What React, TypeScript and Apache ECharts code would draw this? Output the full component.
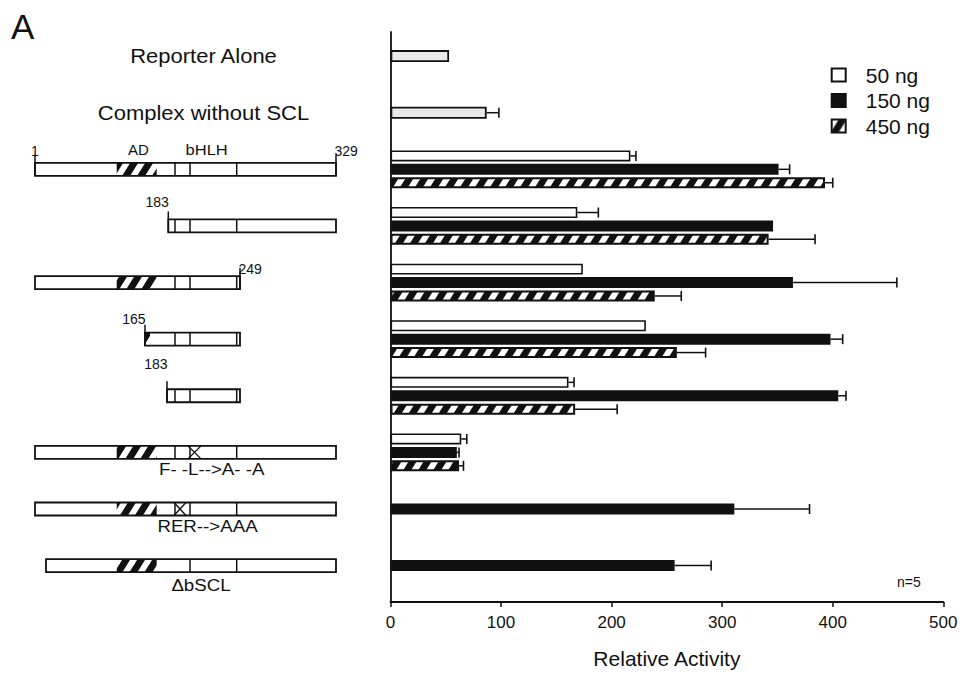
import React, { useEffect, useRef } from 'react';
import * as echarts from 'echarts';

// ---------- data ----------
const rowNames = [
  'Reporter Alone',
  'Complex without SCL',
  'SCL 1-329',
  'SCL 183-329',
  'SCL 1-249',
  'SCL 165-249',
  'SCL 183-249',
  'F- -L-->A- -A',
  'RER-->AAA',
  'ΔbSCL',
];
const doseNames = ['50 ng', '150 ng', '450 ng'];
const controlValues = [53, 87, null, null, null, null, null, null, null, null];
const controlErrors = [null, 98, null, null, null, null, null, null, null, null];
const ng50Values = [null, null, 217, 169, 174, 231, 161, 64, null, null];
const ng50Errors = [null, null, 222, 188, null, null, 166, 69, null, null];
const ng150Values = [null, null, 351, 346, 364, 398, 405, 60, 311, 257];
const ng150Errors = [null, null, 361, null, 458, 409, 412, 62, 379, 290];
const ng450Values = [null, null, 393, 342, 239, 259, 167, 62, null, null];
const ng450Errors = [null, null, 400, 384, 263, 285, 205, 66, null, null];
const xMin = 0;
const xMax = 500;
const xInterval = 100;

// ---------- schematic of the constructs (drawing units along the diagram) ----------
const AD = [81.7, 121.7];
const DIVS = [140, 155, 201.7];
const constructs: any[] = [
  null,
  null,
  { start: 0, end: 301, ad: AD, dividers: DIVS, startLabel: '1', startAlign: 'center', endLabel: '329', rise: 5, domainLabels: true },
  { start: 133.3, end: 301, dividers: DIVS, startLabel: '183', rise: 10 },
  { start: 0, end: 205, ad: AD, dividers: DIVS, endLabel: '249', rise: 0 },
  { start: 110, end: 205, ad: [110, 115], dividers: DIVS, startLabel: '165', rise: 7 },
  { start: 132, end: 205, dividers: DIVS, startLabel: '183', rise: 18 },
  { start: 0, end: 301, ad: AD, dividers: DIVS, mutation: [153, 166], caption: 'F- -L-->A- -A', captionX: 176.7, captionGap: 2 },
  { start: 0, end: 301, ad: AD, dividers: DIVS, mutation: [139, 151], caption: 'RER-->AAA', captionX: 172.5, captionGap: 2 },
  { start: 11, end: 301, ad: AD, dividers: [155, 201.7], caption: 'ΔbSCL', captionX: 166, captionGap: 5 },
];

// ---------- layout / style ----------
const FONT = 'Liberation Sans, Arial, Helvetica, sans-serif';
const INK = '#111';
const GRID_LEFT = 390.5;
const GRID_W = 552.8;
const ROW_TOP = 27.8;
const ROW_H = 566.1;
const AXIS_TOP = 32;
const AXIS_Y = 602;
const DIAG_LEFT = 35;
const DIAG_W = 301;
const BAR_W = 11;
const BAR_GAP = 0.22;
const PITCH = BAR_W * (1 + BAR_GAP);
const DIAG_H = 13;

function makeHatch() {
  const W = 15;
  const H = 24;
  const c = document.createElement('canvas');
  c.width = W;
  c.height = H;
  const ctx = c.getContext('2d')!;
  ctx.fillStyle = INK;
  ctx.fillRect(0, 0, W, H);
  ctx.fillStyle = '#fff';
  for (const dx of [-W, 0, W]) {
    ctx.beginPath();
    ctx.moveTo(dx, H);
    ctx.lineTo(dx + W, 0);
    ctx.lineTo(dx + W + 7, 0);
    ctx.lineTo(dx + 7, H);
    ctx.closePath();
    ctx.fill();
  }
  return { image: c.toDataURL(), repeat: 'repeat', imageWidth: W, imageHeight: H } as any;
}

function txt(text: string, x: number, y: number, size: number, align: string, valign: string, scaleX = 1) {
  return {
    type: 'text',
    x,
    y,
    scaleX,
    style: {
      text,
      font: `${size}px ${FONT}`,
      fill: INK,
      textFill: INK,
      align,
      verticalAlign: valign,
      textAlign: align,
      textVerticalAlign: valign,
    },
  };
}
function ln(x1: number, y1: number, x2: number, y2: number, w = 1.5) {
  return { type: 'line', shape: { x1, y1, x2, y2 }, style: { stroke: INK, lineWidth: w } };
}

function buildOption() {
  const hatch = makeHatch();

  const errorSeries = (values: any[], errors: any[], slot: number, yAxisIndex: number) => ({
    type: 'custom',
    xAxisIndex: 0,
    yAxisIndex,
    z: 4,
    silent: true,
    data: values
      .map((v, i) => [v, i, errors[i]])
      .filter((d) => d[0] != null && d[2] != null),
    encode: { x: [0, 2], y: 1 },
    renderItem: (_p: any, api: any) => {
      const row = api.value(1);
      const a = api.coord([api.value(0), row]);
      const b = api.coord([api.value(2), row]);
      const y = a[1] + slot * PITCH;
      return {
        type: 'group',
        children: [ln(a[0], y, b[0], y, 1.5), ln(b[0], y - 5, b[0], y + 5, 1.6)],
      };
    },
  });

  const diagramSeries = {
    type: 'custom',
    xAxisIndex: 2,
    yAxisIndex: 3,
    silent: true,
    data: rowNames.map((_n, i) => [0, i]),
    encode: { x: 0, y: 1 },
    renderItem: (_p: any, api: any) => {
      const row = api.value(1);
      const X = (u: number) => api.coord([u, row])[0];
      const yc = api.coord([0, row])[1];
      if (row < 2) {
        return txt(rowNames[row], X(168.5), yc, 20, 'center', 'middle', 1.1);
      }
      const c = constructs[row];
      const top = yc - DIAG_H / 2;
      const bot = yc + DIAG_H / 2;
      const x0 = X(c.start);
      const x1 = X(c.end);
      const kids: any[] = [];
      kids.push({ type: 'rect', shape: { x: x0, y: top, width: x1 - x0, height: DIAG_H }, style: { fill: '#fff' } });
      if (c.ad) {
        kids.push({
          type: 'rect',
          shape: { x: X(c.ad[0]), y: top, width: X(c.ad[1]) - X(c.ad[0]), height: DIAG_H },
          style: { fill: hatch },
        });
      }
      for (const d of c.dividers) {
        if (d > c.start && d < c.end) kids.push(ln(X(d), top, X(d), bot, 1.5));
      }
      if (c.mutation) {
        const m0 = X(c.mutation[0]);
        const m1 = X(c.mutation[1]);
        kids.push(ln(m0, top, m1, bot, 1.4), ln(m1, top, m0, bot, 1.4));
      }
      kids.push({
        type: 'rect',
        shape: { x: x0, y: top, width: x1 - x0, height: DIAG_H },
        style: { fill: 'none', stroke: INK, lineWidth: 1.8 },
      });
      if (c.startLabel) {
        kids.push(ln(x0, top - 8, x0, bot, 1.5));
        const al = c.startAlign || 'right';
        kids.push(txt(c.startLabel, al === 'center' ? x0 : x0 + 0.5, top - c.rise, 14, al, 'bottom'));
      }
      if (c.endLabel) {
        kids.push(ln(x1, top - 8, x1, bot, 1.5));
        kids.push(txt(c.endLabel, x1 - 1.5, top - c.rise, 14, 'left', 'bottom'));
      }
      if (c.domainLabels) {
        kids.push(txt('AD', X(103.3), top - 6, 15, 'center', 'bottom'));
        kids.push(txt('bHLH', X(171.7), top - 6, 15, 'center', 'bottom', 1.1));
      }
      if (c.caption) {
        kids.push(txt(c.caption, X(c.captionX), bot + c.captionGap, 17, 'center', 'top', 1.1));
      }
      return { type: 'group', children: kids };
    },
  };

  const barBase = {
    type: 'bar',
    xAxisIndex: 0,
    yAxisIndex: 0,
    barWidth: BAR_W,
    barGap: `${BAR_GAP * 100}%`,
    z: 2,
  };

  return {
    animation: false,
    backgroundColor: '#fff',
    textStyle: { fontFamily: FONT, color: INK },
    legend: {
      data: doseNames,
      orient: 'vertical',
      left: 830.7,
      top: 64.5,
      padding: 0,
      itemWidth: 14,
      itemHeight: 13,
      itemGap: 4.5,
      icon: 'rect',
      selectedMode: false,
      textStyle: { fontSize: 21, fontFamily: FONT, color: INK, lineHeight: 21, padding: [0, 0, 0, 15] },
    },
    grid: [
      { left: GRID_LEFT, width: GRID_W, top: ROW_TOP, height: ROW_H, outerBoundsMode: 'none', containLabel: false },
      { left: GRID_LEFT, width: GRID_W, top: AXIS_TOP, height: AXIS_Y - AXIS_TOP, outerBoundsMode: 'none', containLabel: false },
      { left: DIAG_LEFT, width: DIAG_W, top: ROW_TOP, height: ROW_H, outerBoundsMode: 'none', containLabel: false },
    ],
    xAxis: [
      { type: 'value', gridIndex: 0, min: xMin, max: xMax, interval: xInterval, show: false },
      {
        type: 'value',
        gridIndex: 1,
        min: xMin,
        max: xMax,
        interval: xInterval,
        axisLine: { show: true, lineStyle: { color: INK, width: 1.8 } },
        axisTick: { show: true, length: 5, lineStyle: { color: INK, width: 1.5 } },
        splitLine: { show: false },
        axisLabel: { fontSize: 17, color: INK, fontFamily: FONT, margin: 12 },
        name: 'Relative Activity',
        nameLocation: 'middle',
        nameGap: 46,
        nameTextStyle: { fontSize: 21, color: INK, fontFamily: FONT },
      },
      { type: 'value', gridIndex: 2, min: 0, max: DIAG_W, show: false },
    ],
    yAxis: [
      { type: 'category', gridIndex: 0, data: rowNames, inverse: true, show: false },
      { type: 'category', gridIndex: 0, data: rowNames, inverse: true, show: false },
      {
        type: 'value',
        gridIndex: 1,
        min: 0,
        max: 1,
        axisLine: { show: true, lineStyle: { color: INK, width: 1.8 } },
        axisTick: { show: false },
        axisLabel: { show: false },
        splitLine: { show: false },
      },
      { type: 'category', gridIndex: 2, data: rowNames, inverse: true, show: false },
    ],
    graphic: [
      { type: 'text', left: 11, top: 9, style: { text: 'A', font: `35px ${FONT}`, fill: INK } },
      { type: 'text', left: 897, top: 575, style: { text: 'n=5', font: `14px ${FONT}`, fill: INK } },
    ],
    series: [
      {
        type: 'bar',
        name: 'control',
        xAxisIndex: 0,
        yAxisIndex: 1,
        barWidth: 12,
        z: 2,
        data: controlValues,
        itemStyle: { color: '#e9e9e9', borderColor: INK, borderWidth: 1.8 },
      },
      { ...barBase, name: doseNames[0], data: ng50Values, itemStyle: { color: '#fff', borderColor: INK, borderWidth: 1.6 } },
      { ...barBase, name: doseNames[1], data: ng150Values, itemStyle: { color: INK, borderColor: INK, borderWidth: 1.5 } },
      { ...barBase, name: doseNames[2], data: ng450Values, itemStyle: { color: hatch, borderColor: INK, borderWidth: 2 } },
      errorSeries(controlValues, controlErrors, 0, 1),
      errorSeries(ng50Values, ng50Errors, -1, 0),
      errorSeries(ng150Values, ng150Errors, 0, 0),
      errorSeries(ng450Values, ng450Errors, 1, 0),
      diagramSeries,
    ],
  };
}

export default function App() {
  const ref = useRef<HTMLDivElement>(null);
  useEffect(() => {
    const chart = echarts.init(ref.current!, null, { renderer: 'svg' });
    chart.setOption(buildOption() as any);
    return () => chart.dispose();
  }, []);
  return (
    <div
      ref={ref}
      style={{ position: 'fixed', left: 0, top: 0, width: 963, height: 677, background: '#fff' }}
    />
  );
}
